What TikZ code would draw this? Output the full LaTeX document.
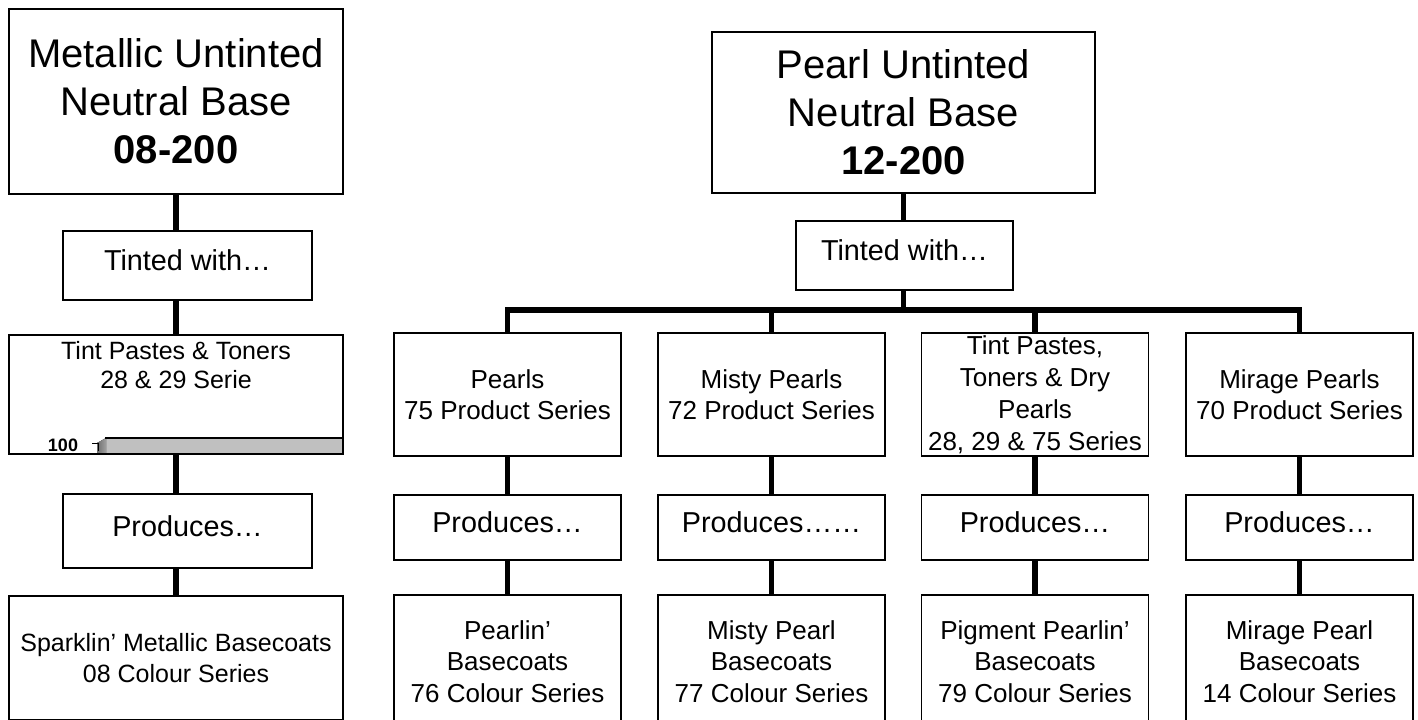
\documentclass[tikz,border=0pt]{standalone}
\usepackage{fontspec}
\setmainfont{Liberation Sans}
\usetikzlibrary{positioning}

\tikzset{
  box/.style={draw, line width=0.9pt, inner sep=1pt, align=center},
  headbox/.style={box, font=\fontsize{20}{24}\selectfont},
  stepbox/.style={box, font=\fontsize{14.4}{17}\selectfont, text height=10.5pt, text depth=5.5pt},
  itembox/.style={box, minimum width=113.5pt, font=\fontsize{13}{15.6}\selectfont},
  leftbox/.style={box, minimum width=167pt, font=\fontsize{12.5}{15.5}\selectfont},
  link/.style={line width=2.75pt},
}

\begin{document}
\begin{tikzpicture}[x=0.5pt,y=0.5pt,yscale=-1,xscale=1]
  \useasboundingbox (0,0) rectangle (1418,719);
  \clip (0,0) rectangle (1418,719);

  %Shape: grey bar left in the tint paste box
  \fill [color={rgb, 255:red, 192; green, 192; blue, 192 }] (106,438) rectangle (343,454) ;
  \fill [left color={rgb, 255:red, 110; green, 110; blue, 110 }, right color={rgb, 255:red, 160; green, 160; blue, 160 }] (97,443) -- (106,438) -- (106,454) -- (97,454) -- cycle ;
  \draw [line width=0.6pt] (105,438) -- (343,438) ;
  \draw [line width=0.5pt] (92,443) -- (98.5,443) -- (98.5,451) ;
  % Text Node
  \node [font=\fontsize{9}{10}\selectfont\bfseries, inner sep=0.75pt] (axis100) at (63,445) {100};

  %Metallic column
  \node [headbox, minimum width=167pt, minimum height=92.5pt] (meta) at (176,101.5) {Metallic Untinted\\Neutral Base\\\textbf{08-200}};
  \node [stepbox, minimum width=124.5pt, minimum height=34.5pt] (tintL) at (187.5,265.5) {Tinted with…};
  \node [leftbox, minimum height=59.5pt] (pasteL) at (176,394.5) {};
  \node [font=\fontsize{12.5}{14.5}\selectfont, align=center, inner sep=0pt, anchor=north, below=3.3pt of pasteL.north] (pasteLtxt) {Tint Pastes \& Toners\\28 \& 29 Serie};
  \node [stepbox, minimum width=124.5pt, minimum height=37pt] (prodL) at (187.5,531) {Produces…};
  \node [leftbox, minimum height=62pt] (sparkL) at (176,658) {Sparklin’ Metallic Basecoats\\08 Colour Series};

  \draw [link] (meta.south) -- (meta.south |- tintL.north) ;
  \draw [link] (tintL.south -| pasteL.north) -- (pasteL.north) ;
  \draw [link] (pasteL.south) -- (pasteL.south |- prodL.north) ;
  \draw [link] (prodL.south -| sparkL.north) -- (sparkL.north) ;

  %Pearl column
  \node [headbox, minimum width=191.5pt, minimum height=80.5pt] (pearl) at (903.5,112.5) {Pearl Untinted\\Neutral Base\\\textbf{12-200}};
  \node [stepbox, minimum width=108.5pt, minimum height=34.5pt] (tintR) at (904.5,255.5) {Tinted with…};
  \coordinate (bus) at (903.5,310);

  \node [itembox, minimum height=61.5pt] (pearls) at (507.5,394.5) {Pearls\\75 Product Series};
  \node [itembox, minimum height=61.5pt] (misty) at (771.5,394.5) {Misty Pearls\\72 Product Series};
  \node [itembox, minimum height=61.5pt, font=\fontsize{13}{16}\selectfont] (dry) at (1035,394.5) {Tint Pastes,\\Toners \& Dry\\Pearls\\28, 29 \& 75 Series};
  \node [itembox, minimum height=61.5pt] (mirage) at (1299.5,394.5) {Mirage Pearls\\70 Product Series};

  \node [stepbox, minimum width=113.5pt, minimum height=32.5pt] (prodA) at (507.5,527.5) {Produces…};
  \node [stepbox, minimum width=113.5pt, minimum height=32.5pt] (prodB) at (771.5,527.5) {Produces……};
  \node [stepbox, minimum width=113.5pt, minimum height=32.5pt] (prodC) at (1035,527.5) {Produces…};
  \node [stepbox, minimum width=113.5pt, minimum height=32.5pt] (prodD) at (1299.5,527.5) {Produces…};

  \node [itembox, minimum height=66.5pt] (coatA) at (507.5,661.5) {Pearlin’\\Basecoats\\76 Colour Series};
  \node [itembox, minimum height=66.5pt] (coatB) at (771.5,661.5) {Misty Pearl\\Basecoats\\77 Colour Series};
  \node [itembox, minimum height=66.5pt] (coatC) at (1035,661.5) {Pigment Pearlin’\\Basecoats\\79 Colour Series};
  \node [itembox, minimum height=66.5pt] (coatD) at (1299.5,661.5) {Mirage Pearl\\Basecoats\\14 Colour Series};

  \draw [link] (pearl.south |- tintR.north) -- (pearl.south) ;
  \draw [link] (tintR.south -| bus) -- (bus) ;
  \draw [link] (pearls.north) |- (bus) -| (mirage.north) ;
  \draw [link] (misty.north |- bus) -- (misty.north) ;
  \draw [link] (dry.north |- bus) -- (dry.north) ;

  \draw [link] (pearls.south) -- (prodA.north) ;
  \draw [link] (misty.south) -- (prodB.north) ;
  \draw [link] (dry.south) -- (prodC.north) ;
  \draw [link] (mirage.south) -- (prodD.north) ;
  \draw [link] (prodA.south) -- (coatA.north) ;
  \draw [link] (prodB.south) -- (coatB.north) ;
  \draw [link] (prodC.south) -- (coatC.north) ;
  \draw [link] (prodD.south) -- (coatD.north) ;

\end{tikzpicture}
\end{document}
